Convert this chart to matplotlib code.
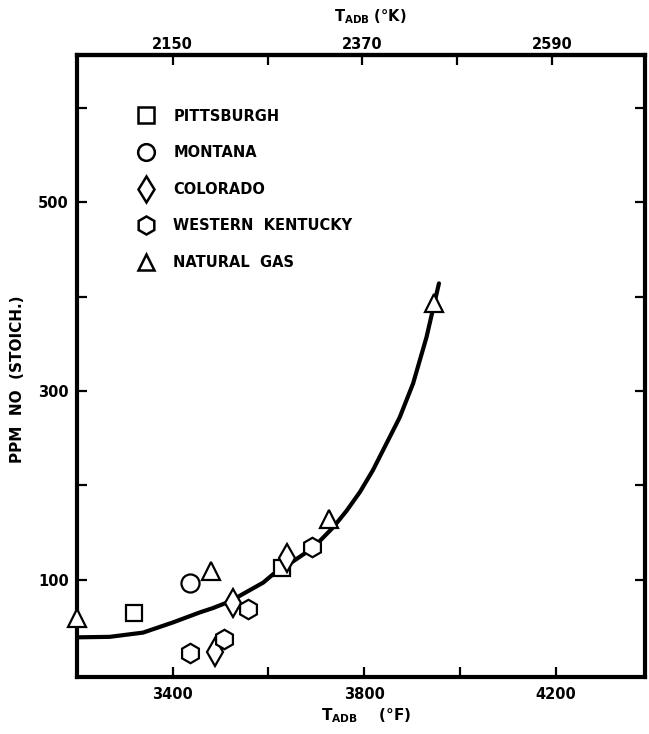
import numpy as np
import matplotlib
matplotlib.use("Agg")
import matplotlib.pyplot as plt
from matplotlib.lines import Line2D

plt.rcParams['font.family'] = ['DejaVu Sans']
plt.rcParams['font.weight'] = 'bold'
plt.rcParams['axes.labelweight'] = 'bold'
plt.rcParams['mathtext.default'] = 'bf'

# data (T in deg F, NO in ppm)
pitt_x = [3320, 3628]
pitt_y = [65, 112]
mont_x = [3436]
mont_y = [97]
colo_x = [3526, 3488, 3638]
colo_y = [75, 23, 123]
kent_x = [3436, 3507, 3557, 3691]
kent_y = [22, 37, 69, 135]
gas_x = [3200, 3480, 3726, 3945]
gas_y = [59, 109, 164, 393]

curve_x = [3200, 3268, 3338, 3400, 3456, 3484, 3519, 3554, 3589, 3610, 3644,
           3679, 3707, 3735, 3763, 3791, 3818, 3846, 3874, 3902, 3930, 3956]
curve_y = [39, 39.5, 44, 54.7, 65.3, 70, 77, 87, 97, 106, 117,
           129, 141, 155.5, 173, 193, 216, 244, 272, 308, 357, 414]

bottom_ticks = [3400, 3600, 3800, 4000, 4200]
bottom_labels = ["3400", "", "3800", "", "4200"]
top_ticks = [2150, 2260, 2370, 2480, 2590]
top_labels = ["2150", "", "2370", "", "2590"]
y_ticks = [100, 200, 300, 400, 500, 600]
y_labels = ["100", "", "300", "", "500", ""]

fig = plt.figure(figsize=(6.49, 7.34), dpi=100)
ax = fig.add_axes([0.1186, 0.0777, 0.875, 0.8474])

ax.plot(curve_x, curve_y, color="black", lw=3, solid_capstyle="round",
        solid_joinstyle="round", zorder=2)

mk = dict(mfc="white", mec="black", mew=1.6, ls="none", clip_on=False, zorder=5)
series = [
    ("PITTSBURGH", "s", 12, pitt_x, pitt_y),
    ("MONTANA", "o", 13, mont_x, mont_y),
    ("COLORADO", "d", 14, colo_x, colo_y),
    ("WESTERN  KENTUCKY", "h", 14, kent_x, kent_y),
    ("NATURAL  GAS", "^", 13, gas_x, gas_y),
]
handles = []
for name, m, s, xs, ys in series:
    ax.plot(xs, ys, marker=m, ms=s, **mk)
    handles.append(Line2D([], [], marker=m, ms=s - 1, mfc="white", mec="black",
                          mew=1.8, ls="none", label=name))

leg = ax.legend(handles=handles, loc="upper left", bbox_to_anchor=(0.085, 0.935),
                frameon=False, fontsize=10.5, labelspacing=1.48,
                handletextpad=1.4, handlelength=1.0)
for t in leg.get_texts():
    t.set_fontweight("bold")

ax.set_xlim(3200, 4386)
ax.set_ylim(-3, 656)

for sp in ax.spines.values():
    sp.set_linewidth(3)

ax.set_xticks(bottom_ticks)
ax.set_xticklabels(bottom_labels)
ax.set_yticks(y_ticks)
ax.set_yticklabels(y_labels)
ax.tick_params(direction="in", length=7, width=1.6, labelsize=10.5,
               right=True, pad=7)
ax.tick_params(axis="y", pad=6)

sec = ax.secondary_xaxis("top", functions=(lambda f: 2150 + (f - 3400) * 5 / 9,
                                            lambda k: 3400 + (k - 2150) * 9 / 5))
sec.set_xticks(top_ticks)
sec.set_xticklabels(top_labels)
sec.tick_params(direction="in", length=7, width=1.6, labelsize=10.5, pad=2)
sec.spines["top"].set_linewidth(3)

fig.text(370 / 649, 1 - 17 / 734, r"T$_{ADB}$ (°K)", fontsize=10.5,
         ha="center", va="center", fontweight="bold")
fig.text(366 / 649, 1 - 716 / 734, r"T$_{ADB}$    (°F)", fontsize=11,
         ha="center", va="center", fontweight="bold")
fig.text(18 / 649, 1 - 379 / 734, "PPM  NO  (STOICH.)", fontsize=11,
         ha="center", va="center", rotation=90, fontweight="bold")

fig.savefig("out.png", dpi=100)
